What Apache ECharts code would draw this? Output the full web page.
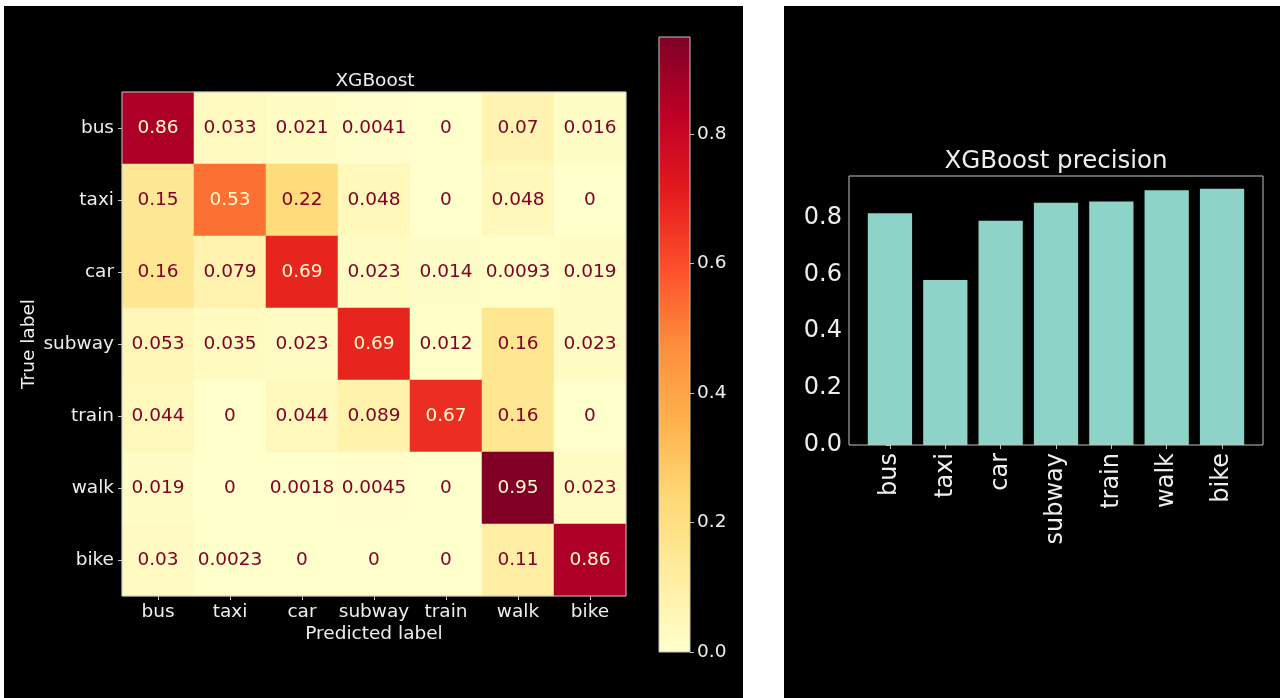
<!DOCTYPE html>
<html>
<head>
<meta charset="utf-8">
<title>XGBoost confusion matrix and precision</title>
<script src="https://cdn.jsdelivr.net/npm/echarts@6/dist/echarts.min.js"></script>
<style>
  html, body { margin: 0; padding: 0; background: #ffffff; width: 1280px; height: 698px; overflow: hidden; }
  #cm   { position: absolute; left: 4px;   top: 6px; width: 739px; height: 692px; background: #000000; }
  #prec { position: absolute; left: 784px; top: 6px; width: 496px; height: 692px; background: #000000; }
</style>
</head>
<body>
<div id="cm"></div>
<div id="prec"></div>
<script>
// Transport modes (rows = true label, columns = predicted label)
const classes = ['bus', 'taxi', 'car', 'subway', 'train', 'walk', 'bike'];

// Row-normalised confusion matrix
const rowBus    = [0.86, 0.033, 0.021, 0.0041, 0, 0.07, 0.016];
const rowTaxi   = [0.15, 0.53, 0.22, 0.048, 0, 0.048, 0];
const rowCar    = [0.16, 0.079, 0.69, 0.023, 0.014, 0.0093, 0.019];
const rowSubway = [0.053, 0.035, 0.023, 0.69, 0.012, 0.16, 0.023];
const rowTrain  = [0.044, 0, 0.044, 0.089, 0.67, 0.16, 0];
const rowWalk   = [0.019, 0, 0.0018, 0.0045, 0, 0.95, 0.023];
const rowBike   = [0.03, 0.0023, 0, 0, 0, 0.11, 0.86];

// Per-class precision
const precision = [0.815, 0.58, 0.789, 0.852, 0.856, 0.896, 0.901];

// Tick labels
const colorbarTicks = [0, 0.2, 0.4, 0.6, 0.8];
const precisionTicks = [0, 0.2, 0.4, 0.6, 0.8];

// YlOrRd colour ramp
const ylOrRd = ['#ffffcc', '#ffeda0', '#fed976', '#feb24c', '#fd8d3c', '#fc4e2a', '#e31a1c', '#bd0026', '#800026'];

const FONT = 'DejaVu Sans';
const TEXT = '#eeeeee';
const SPINE = '#c4c4c4';
const FS_LEFT = 18.5;
const FS_RIGHT = 24;

// ---------- Confusion matrix ----------
const rows = [rowBus, rowTaxi, rowCar, rowSubway, rowTrain, rowWalk, rowBike];
const flat = rows.flat();
const vmin = Math.min(...flat);
const vmax = Math.max(...flat);
const thresh = (vmin + vmax) / 2;

const cells = [];
rows.forEach((row, r) => {
  row.forEach((v, c) => {
    cells.push({
      value: [c, r, v],
      label: { color: v < thresh ? ylOrRd[ylOrRd.length - 1] : ylOrRd[0] }
    });
  });
});

const cmChart = echarts.init(document.getElementById('cm'), null, { renderer: 'canvas' });
cmChart.setOption({
  animation: false,
  backgroundColor: '#000000',
  textStyle: { fontFamily: FONT },
  title: {
    text: 'XGBoost',
    left: 371,
    top: 66,
    padding: 0,
    textAlign: 'center',
    textStyle: { color: TEXT, fontFamily: FONT, fontSize: FS_LEFT, fontWeight: 'normal' }
  },
  grid: [
    { left: 118, top: 86, width: 504, height: 504, show: true, borderColor: SPINE, borderWidth: 1, backgroundColor: 'transparent', z: 10 },
    { left: 655, top: 31, width: 31, height: 615, show: true, borderColor: SPINE, borderWidth: 1, backgroundColor: 'transparent', z: 10 }
  ],
  xAxis: [
    {
      gridIndex: 0,
      type: 'category',
      data: classes,
      axisLine: { show: false },
      axisTick: { show: true, interval: 0, alignWithLabel: true, length: 4, lineStyle: { color: SPINE } },
      axisLabel: { interval: 0, color: TEXT, fontSize: FS_LEFT, fontFamily: FONT, margin: 7 },
      splitLine: { show: false },
      name: 'Predicted label',
      nameLocation: 'middle',
      nameMoveOverlap: false,
      nameGap: 29,
      nameTextStyle: { color: TEXT, fontSize: FS_LEFT, fontFamily: FONT, verticalAlign: 'top' }
    },
    {
      gridIndex: 1,
      type: 'category',
      data: [''],
      show: false
    }
  ],
  yAxis: [
    {
      gridIndex: 0,
      type: 'category',
      data: classes,
      inverse: true,
      axisLine: { show: false },
      axisTick: { show: true, interval: 0, alignWithLabel: true, length: 4, lineStyle: { color: SPINE } },
      axisLabel: { interval: 0, color: TEXT, fontSize: FS_LEFT, fontFamily: FONT, margin: 8 },
      splitLine: { show: false },
      name: 'True label',
      nameLocation: 'middle',
      nameMoveOverlap: false,
      nameGap: 83,
      nameTextStyle: { color: TEXT, fontSize: FS_LEFT, fontFamily: FONT }
    },
    {
      gridIndex: 1,
      type: 'value',
      position: 'right',
      min: 0,
      max: vmax,
      axisLine: { show: false },
      axisTick: { show: true, length: 4, lineStyle: { color: SPINE }, customValues: colorbarTicks },
      axisLabel: {
        color: TEXT, fontSize: FS_LEFT, fontFamily: FONT, margin: 7,
        customValues: colorbarTicks,
        formatter: v => v.toFixed(1)
      },
      splitLine: { show: false }
    }
  ],
  visualMap: {
    show: false,
    type: 'continuous',
    seriesIndex: 0,
    min: vmin,
    max: vmax,
    dimension: 2,
    inRange: { color: ylOrRd }
  },
  series: [
    {
      type: 'heatmap',
      xAxisIndex: 0,
      yAxisIndex: 0,
      data: cells,
      label: {
        show: true,
        fontSize: FS_LEFT,
        fontFamily: FONT,
        formatter: p => String(p.value[2])
      },
      itemStyle: { borderWidth: 0 },
      emphasis: { disabled: true }
    },
    {
      // colour bar: one bar spanning the full value range of the matrix
      type: 'bar',
      xAxisIndex: 1,
      yAxisIndex: 1,
      data: [vmax],
      barWidth: '100%',
      silent: true,
      itemStyle: {
        color: {
          type: 'linear', x: 0, y: 1, x2: 0, y2: 0,
          colorStops: ylOrRd.map((c, i) => ({ offset: i / (ylOrRd.length - 1), color: c }))
        }
      }
    }
  ]
});

// ---------- Precision bar chart ----------
const n = classes.length;
const barW = 0.8;
const span = (n - 1) + barW;
const pad = 0.05 * span;
const xMin = -barW / 2 - pad;
const xMax = (n - 1) + barW / 2 + pad;
const yMax = Math.max(...precision) * 1.05;

const precChart = echarts.init(document.getElementById('prec'), null, { renderer: 'canvas' });
precChart.setOption({
  animation: false,
  backgroundColor: '#000000',
  textStyle: { fontFamily: FONT },
  title: {
    text: 'XGBoost precision',
    left: 272,
    top: 143,
    padding: 0,
    textAlign: 'center',
    textStyle: { color: TEXT, fontFamily: FONT, fontSize: 24.5, fontWeight: 'normal' }
  },
  grid: { left: 65, top: 170, width: 414, height: 269, show: true, borderColor: SPINE, borderWidth: 1, backgroundColor: 'transparent', z: 10 },
  xAxis: {
    type: 'value',
    min: xMin,
    max: xMax,
    axisLine: { show: false },
    axisTick: { show: true, length: 4, lineStyle: { color: SPINE }, customValues: classes.map((_, i) => i) },
    axisLabel: {
      color: TEXT, fontSize: FS_RIGHT, fontFamily: FONT, margin: 8, rotate: 90,
      customValues: classes.map((_, i) => i),
      formatter: v => classes[Math.round(v)]
    },
    splitLine: { show: false }
  },
  yAxis: {
    type: 'value',
    min: 0,
    max: yMax,
    axisLine: { show: false },
    axisTick: { show: true, length: 4, lineStyle: { color: SPINE }, customValues: precisionTicks },
    axisLabel: {
      color: TEXT, fontSize: FS_RIGHT, fontFamily: FONT, margin: 7,
      customValues: precisionTicks,
      formatter: v => v.toFixed(1)
    },
    splitLine: { show: false }
  },
  series: [
    {
      type: 'bar',
      data: precision.map((v, i) => [i, v]),
      barWidth: '80%',
      itemStyle: { color: '#8dd3c7' },
      emphasis: { disabled: true }
    }
  ]
});
</script>
</body>
</html>
